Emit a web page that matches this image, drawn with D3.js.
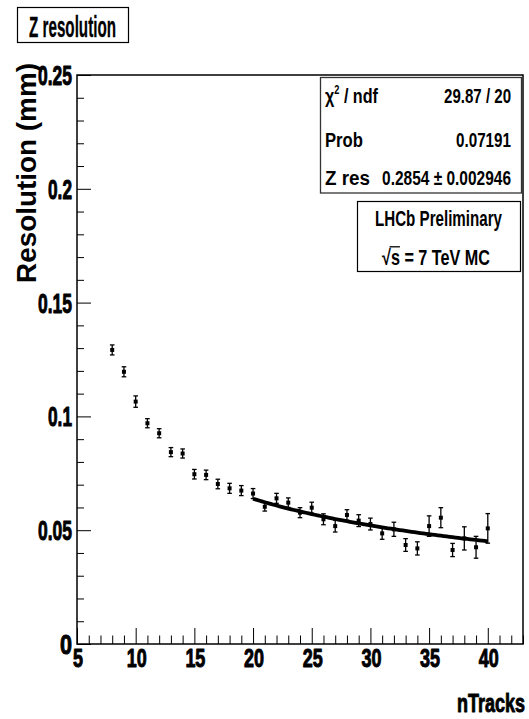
<!DOCTYPE html>
<html>
<head>
<meta charset="utf-8">
<script src="https://cdn.jsdelivr.net/npm/d3@7"></script>
<style>
  html, body { margin: 0; padding: 0; background: #fff; }
  svg { display: block; }
  text { font-family: "Liberation Sans", Arial, Helvetica, sans-serif; fill: #000; }
</style>
</head>
<body>
<svg id="chart" width="529" height="719"></svg>
<script>
// Z vertex resolution versus number of tracks in the vertex
const nTracks = [8, 9, 10, 11, 12, 13, 14, 15, 16, 17, 18, 19, 20, 21, 22, 23, 24,
                 25, 26, 27, 28, 29, 30, 31, 32, 33, 34, 35, 36, 37, 38, 39, 40];
const resolution = [0.1292, 0.1196, 0.1065, 0.0970, 0.0926, 0.0843, 0.0837, 0.0746,
                    0.0743, 0.0703, 0.0684, 0.0674, 0.0661, 0.0603, 0.0640, 0.0621,
                    0.0577, 0.0599, 0.0548, 0.0518, 0.0567, 0.0542, 0.0527, 0.0486,
                    0.0504, 0.0435, 0.0420, 0.0518, 0.0555, 0.0413, 0.0464, 0.0425,
                    0.0508];
const resolutionErr = [0.0022, 0.0022, 0.0025, 0.0020, 0.0020, 0.0020, 0.0020, 0.0021,
                       0.0021, 0.0021, 0.0022, 0.0022, 0.0022, 0.0019, 0.0022, 0.0021,
                       0.0022, 0.0024, 0.0024, 0.0026, 0.0023, 0.0026, 0.0026, 0.0026,
                       0.0031, 0.0028, 0.0029, 0.0045, 0.0044, 0.0029, 0.0051, 0.0048,
                       0.0065];

// Fit: resolution = p0 / sqrt(nTracks), fitted over nTracks 20..40
const fitParam = 0.2854;
const fitParamErr = 0.002946;
const fitRange = [20, 40];
const chi2 = "29.87", ndf = "20", prob = "0.07191";

const xTickLabels = [5, 10, 15, 20, 25, 30, 35, 40];
const yTickLabels = [0, 0.05, 0.1, 0.15, 0.2, 0.25];

const svg = d3.select("#chart");
svg.append("rect").attr("width", 529).attr("height", 719).attr("fill", "#fff");

const x = d3.scaleLinear().domain([5, 43]).range([77, 523]);
const y = d3.scaleLinear().domain([0, 0.25]).range([644, 75]);

// Text drawn at a given width (condensed look of the labels)
function label(parent, x0, y0, opts) {
  let tf = `translate(${x0},${y0})`;
  if (opts.rotate) tf += ` rotate(${opts.rotate})`;
  const g = parent.append("g").attr("transform", tf);
  const inner = g.append("g");
  const t = inner.append("text")
    .attr("text-anchor", opts.anchor || "start")
    .style("font-size", opts.size + "px")
    .style("font-weight", opts.weight || "bold");
  if (opts.stroke) t.attr("stroke", "#000").attr("stroke-width", opts.stroke)
    .attr("stroke-linejoin", "round");
  if (opts.parts) {
    opts.parts.forEach(p => {
      const ts = t.append("tspan").text(p.text);
      if (p.size) ts.style("font-size", p.size + "px");
      if (p.dy) ts.attr("dy", p.dy);
    });
  } else {
    t.text(opts.text);
  }
  if (opts.width) {
    const w = t.node().getComputedTextLength();
    inner.attr("transform", `scale(${opts.width / w},1)`);
  }
  return { g: inner, t };
}

// Frame
svg.append("rect")
  .attr("x", x(5)).attr("y", y(0.25))
  .attr("width", x(43) - x(5)).attr("height", y(0) - y(0.25))
  .attr("fill", "none").attr("stroke", "#000").attr("stroke-width", 1.5);

// X axis: minor and major ticks pointing inward
const xMinor = d3.range(5, 44).filter(v => v % 5 !== 0);
svg.append("g").attr("transform", `translate(0,${y(0)})`)
  .call(d3.axisBottom(x).tickValues(xMinor).tickSize(-8.5).tickFormat(""))
  .call(g => g.select(".domain").remove())
  .selectAll("line").attr("stroke", "#000").attr("stroke-width", 1);
svg.append("g").attr("transform", `translate(0,${y(0)})`)
  .call(d3.axisBottom(x).tickValues(xTickLabels).tickSize(-16).tickFormat(""))
  .call(g => g.select(".domain").remove())
  .selectAll("line").attr("stroke", "#000").attr("stroke-width", 1);

// Y axis
const yMinor = d3.range(1, 25).filter(v => v % 5 !== 0).map(v => v / 100);
svg.append("g").attr("transform", `translate(${x(5)},0)`)
  .call(d3.axisLeft(y).tickValues(yMinor).tickSize(-7).tickFormat(""))
  .call(g => g.select(".domain").remove())
  .selectAll("line").attr("stroke", "#000").attr("stroke-width", 1);
svg.append("g").attr("transform", `translate(${x(5)},0)`)
  .call(d3.axisLeft(y).tickValues(yTickLabels).tickSize(-14).tickFormat(""))
  .call(g => g.select(".domain").remove())
  .selectAll("line").attr("stroke", "#000").attr("stroke-width", 1);

// Tick labels
const fmtY = v => (v === 0 ? "0" : String(+v.toFixed(2)));
yTickLabels.forEach(v => {
  const s = fmtY(v);
  label(svg, 72, y(v) + 10, { text: s, anchor: "end", size: 27.5, stroke: 1,
    width: s.length === 1 ? 12 : s.length === 3 ? 24 : 34 });
});
xTickLabels.forEach(v => {
  const s = String(v);
  label(svg, x(v) + 1, 667, { text: s, anchor: "middle", size: 26, stroke: 1,
    width: s.length === 1 ? 10 : 20 });
});

// Axis titles
label(svg, 525, 712, { text: "nTracks", anchor: "end", size: 25, stroke: 0.9, width: 68 });
label(svg, 36, 173, { text: "Resolution (mm)", anchor: "middle", size: 27,
  rotate: -90, width: 220 });

// Fit curve from the fitted parameter
const fitN = d3.range(fitRange[0], fitRange[1] + 0.001, 0.25);
const line = d3.line().x(d => x(d)).y(d => y(fitParam / Math.sqrt(d)));
svg.append("path").datum(fitN).attr("d", line)
  .attr("fill", "none").attr("stroke", "#000").attr("stroke-width", 3.8);

// Data points with error bars
const pts = svg.append("g");
nTracks.forEach((n, i) => {
  const cx = x(n), v = resolution[i], e = resolutionErr[i];
  const y1 = y(v + e), y2 = y(v - e);
  pts.append("line").attr("x1", cx).attr("x2", cx).attr("y1", y1).attr("y2", y2)
    .attr("stroke", "#000").attr("stroke-width", 1.3);
  [y1, y2].forEach(yy => pts.append("line")
    .attr("x1", cx - 2.3).attr("x2", cx + 2.3).attr("y1", yy).attr("y2", yy)
    .attr("stroke", "#000").attr("stroke-width", 1.3));
  pts.append("rect").attr("x", cx - 2).attr("y", y(v) - 2)
    .attr("width", 4).attr("height", 4).attr("fill", "#000");
});

// Histogram title box
svg.append("rect").attr("x", 17.5).attr("y", 7.5).attr("width", 111).attr("height", 35)
  .attr("fill", "#fff").attr("stroke", "#000").attr("stroke-width", 1.2);
label(svg, 72.5, 36.5, { text: "Z resolution", anchor: "middle", size: 29, stroke: 0.3, width: 87 });

// Fit statistics box
svg.append("rect").attr("x", 320.5).attr("y", 77.5).attr("width", 201).attr("height", 115.5)
  .attr("fill", "#fff").attr("stroke", "#333").attr("stroke-width", 1.3);
label(svg, 325, 103, { anchor: "start", size: 21, width: 53,
  parts: [{ text: "χ" }, { text: "2", size: 12, dy: -9 }, { text: " / ndf", size: 21, dy: 9 }] });
label(svg, 511, 103, { text: `${chi2} / ${ndf}`, anchor: "end", size: 21, width: 67 });
label(svg, 325, 146.5, { text: "Prob", anchor: "start", size: 21, width: 38 });
label(svg, 511, 146.5, { text: prob, anchor: "end", size: 21, width: 55 });
label(svg, 325, 184.5, { text: "Z res", anchor: "start", size: 21, width: 45 });
label(svg, 511, 184.5, { text: `${fitParam} ± ${fitParamErr}`, anchor: "end", size: 21, width: 129 });

// Experiment label box
svg.append("rect").attr("x", 357.5).attr("y", 201.5).attr("width", 163).attr("height", 70)
  .attr("fill", "#fff").attr("stroke", "#000").attr("stroke-width", 1.2);
label(svg, 438.5, 225.5, { text: "LHCb Preliminary", anchor: "middle", size: 21.5, width: 127 });
const sq = label(svg, 436, 264.5, { text: "√s = 7 TeV MC", anchor: "middle", size: 21.5, width: 108 });
{
  const node = sq.t.node();
  const r = node.getExtentOfChar(0), s = node.getExtentOfChar(1);
  sq.g.append("line")
    .attr("x1", r.x + r.width * 0.85).attr("x2", s.x + s.width)
    .attr("y1", r.y + 1.5).attr("y2", r.y + 1.5)
    .attr("stroke", "#000").attr("stroke-width", 1.3);
}
</script>
</body>
</html>
